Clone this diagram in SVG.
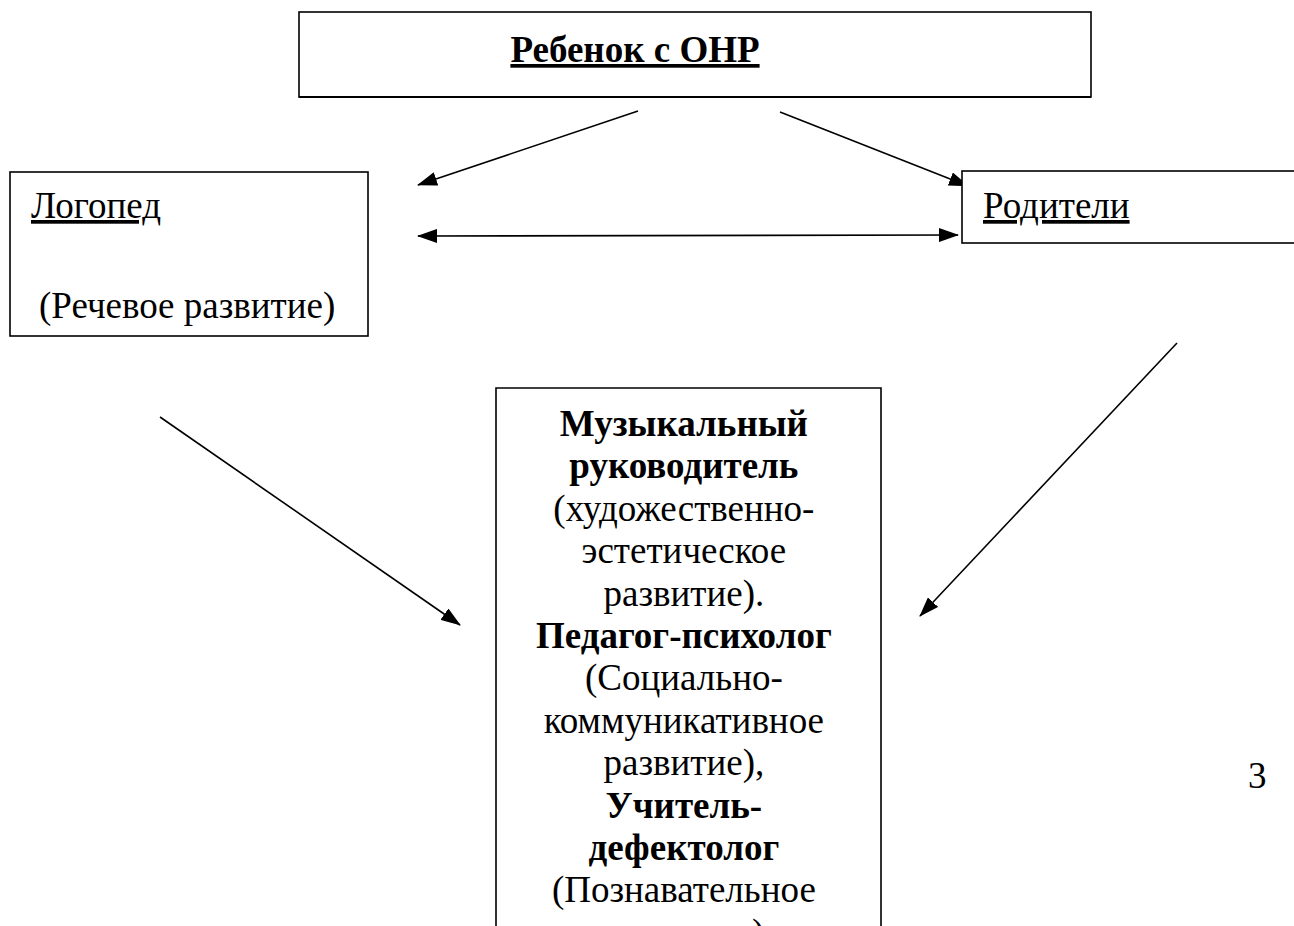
<svg xmlns="http://www.w3.org/2000/svg" width="1294" height="926" viewBox="0 0 1294 926">
<style>
.box{fill:#fff;stroke:#000;stroke-width:1.6}
.t{font-family:"Liberation Serif","Times New Roman",serif;font-size:37px;fill:#000}
.b{font-weight:bold}
.u{text-decoration:underline}
.c{text-anchor:middle}
.con line{stroke:#000;stroke-width:1.6}
</style>
<defs>
<marker id="ah" markerWidth="20" markerHeight="14" refX="19" refY="7" orient="auto-start-reverse" markerUnits="userSpaceOnUse">
<path d="M0,0 L20,7 L0,14 Z" fill="#000"/>
</marker>
</defs>
<rect width="1294" height="926" fill="#fff"/>
<g id="connectors" class="con">
<line x1="638" y1="111" x2="418" y2="185" marker-end="url(#ah)"/>
<line x1="780" y1="112" x2="968" y2="186" marker-end="url(#ah)"/>
<line x1="418" y1="236" x2="958" y2="235" marker-start="url(#ah)" marker-end="url(#ah)"/>
<line x1="160" y1="417" x2="460" y2="625" marker-end="url(#ah)"/>
<line x1="1177" y1="343" x2="920" y2="616" marker-end="url(#ah)"/>
</g>
<g id="child">
<rect class="box" x="299" y="12" width="792" height="85"/>
<line x1="299" y1="97" x2="1091" y2="97" stroke="#000" stroke-width="2.2"/>
<text class="t b u c" x="635" y="62" font-size="38">Ребенок с ОНР</text>
</g>
<g id="logoped">
<rect class="box" x="10" y="172" width="358" height="164"/>
<text class="t u" x="31" y="218">Логопед</text>
<text class="t" x="39" y="318">(Речевое развитие)</text>
</g>
<g id="parents">
<rect class="box" x="962" y="171" width="340" height="72"/>
<text class="t u" x="983" y="218">Родители</text>
</g>
<g id="specialists">
<path class="box" d="M496,930 V388 H881 V930"/>
<text class="t c" x="688.5">
<tspan class="b" x="688.5" y="436">Музыкальный</tspan>
<tspan class="b" x="688.5" y="478.4">руководитель</tspan>
<tspan x="688.5" y="520.8">(художественно-</tspan>
<tspan x="688.5" y="563.2">эстетическое</tspan>
<tspan x="688.5" y="605.6">развитие).</tspan>
<tspan class="b" x="688.5" y="648">Педагог-психолог</tspan>
<tspan x="688.5" y="690.4">(Социально-</tspan>
<tspan x="688.5" y="732.8">коммуникативное</tspan>
<tspan x="688.5" y="775.2">развитие),</tspan>
<tspan class="b" x="688.5" y="817.6">Учитель-</tspan>
<tspan class="b" x="688.5" y="860">дефектолог</tspan>
<tspan x="688.5" y="902.4">(Познавательное</tspan>
<tspan x="688.5" y="944.8">развитие)</tspan>
</text>
</g>
<text class="t" x="1248" y="788" font-size="33">3</text>
</svg>
